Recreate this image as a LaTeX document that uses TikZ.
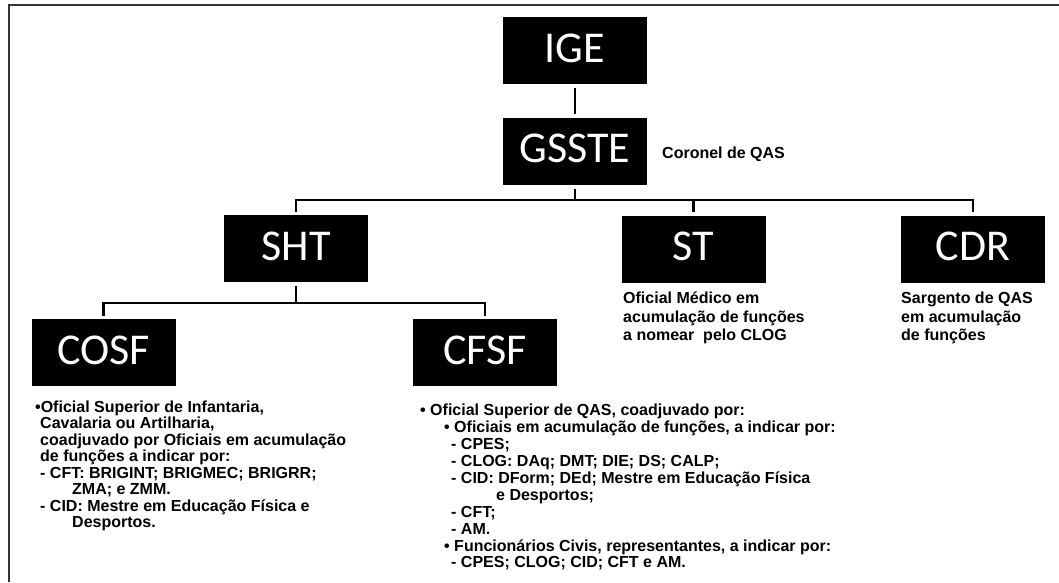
\documentclass[tikz,border=0pt]{standalone}
\usepackage{fontspec}
\setmainfont{Liberation Sans}
\newfontfamily\boxfont{Carlito}
\begin{document}
\begin{tikzpicture}[x=1pt,y=-1pt,
  orgbox/.style={fill=black, text=white, minimum width=144pt, minimum height=67pt,
    inner sep=0pt, font=\boxfont\fontsize{44}{44}\selectfont, text height=28pt, text depth=5pt},
  conn/.style={line width=2.8pt, line join=miter},
  info/.style={anchor=north west, inner sep=0pt, align=left,
    font=\bfseries\fontsize{16}{16.5}\selectfont},
  infob/.style={anchor=north west, inner sep=0pt, align=left,
    font=\bfseries\fontsize{16}{16.9}\selectfont},
  note/.style={anchor=north west, inner sep=0pt, align=left,
    font=\bfseries\fontsize{16}{18.4}\selectfont},
  frame/.style={line width=1.5pt, draw=black!80}]
\fill[white] (0,0) rectangle (1059,582);
\useasboundingbox (0,0) rectangle (1059,582);
\draw[frame] (9,582) -- (9,5) -- (1059,5);

\node[orgbox] (IGE) at (575,50.5) {IGE};
\node[orgbox] (GSSTE) at (575,151) {GSSTE};
\node[orgbox] (SHT) at (296,248.5) {SHT};
\node[orgbox] (ST) at (693.5,249) {ST};
\node[orgbox] (CDR) at (973,249) {CDR};
\node[orgbox] (COSF) at (103.5,352.5) {COSF};
\node[orgbox] (CFSF) at (485,352.5) {CFSF};

\coordinate (busA) at (575,200);
\coordinate (busB) at (296,303);

\draw[conn] ([yshift=-4pt]IGE.south) -- ([yshift=3pt]GSSTE.north);
\draw[conn] ([yshift=-4pt]GSSTE.south) -- (GSSTE.south |- busA);
\draw[conn] ([yshift=3pt]SHT.north) -- (SHT.north |- busA) -- (CDR.north |- busA) -- ([yshift=3pt]CDR.north);
\draw[conn] (ST.north |- busA) -- ([yshift=3pt]ST.north);
\draw[conn] ([yshift=-4pt]SHT.south) -- (busB);
\draw[conn] ([yshift=3pt]COSF.north) -- (COSF.north |- busB) -- (CFSF.north |- busB) -- ([yshift=3pt]CFSF.north);

\node[anchor=base west, inner sep=0pt, font=\bfseries\fontsize{16}{18}\selectfont] (coronel) at (662,158.5) {Coronel de QAS};

\node[note] (sttext) at (623,292) {Oficial Médico em\\acumulação de funções\\a nomear\ \ pelo CLOG};
\node[note] (cdrtext) at (901,292) {Sargento de QAS\\em acumulação\\de funções};

\node[info] (cosftext) at (35,400.3) {•Oficial Superior de Infantaria,\\
\hspace*{5pt}Cavalaria ou Artilharia,\\
\hspace*{5pt}coadjuvado por Oficiais em acumulação\\
\hspace*{5pt}de funções a indicar por:\\
\hspace*{5pt}- CFT: BRIGINT; BRIGMEC; BRIGRR;\\
\hspace*{37pt}ZMA; e ZMM.\\
\hspace*{5pt}- CID: Mestre em Educação Física e\\
\hspace*{37pt}Desportos.};

\node[infob] (cfsftext) at (420,404) {• Oficial Superior de QAS, coadjuvado por:\\
\hspace*{24pt}• Oficiais em acumulação de funções, a indicar por:\\
\hspace*{31pt}- CPES;\\
\hspace*{31pt}- CLOG: DAq; DMT; DIE; DS; CALP;\\
\hspace*{31pt}- CID: DForm; DEd; Mestre em Educação Física\\
\hspace*{76pt}e Desportos;\\
\hspace*{31pt}- CFT;\\
\hspace*{31pt}- AM.\\
\hspace*{24pt}• Funcionários Civis, representantes, a indicar por:\\
\hspace*{31pt}- CPES; CLOG; CID; CFT e AM.};
\end{tikzpicture}
\end{document}
